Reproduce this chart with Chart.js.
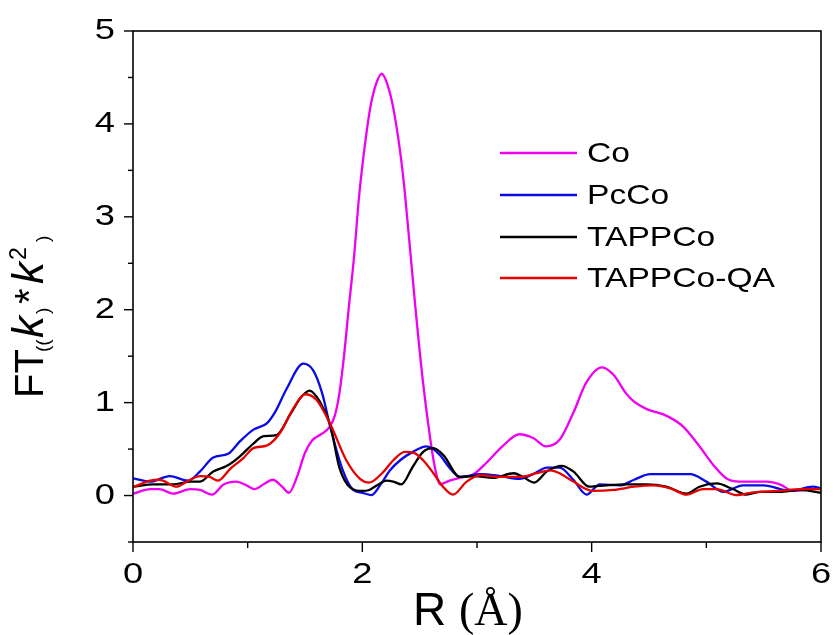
<!DOCTYPE html>
<html>
<head>
<meta charset="utf-8">
<script src="https://cdn.jsdelivr.net/npm/chart.js@4.4.0/dist/chart.umd.min.js"></script>
<style>
  html, body { margin: 0; padding: 0; background: #fff; }
  canvas { display: block; }
</style>
</head>
<body>
<canvas id="ftChart" width="835" height="635"></canvas>
<script>
// R (Å) / FT values
const coR = [0, 0.15, 0.23, 0.35, 0.5, 0.585, 0.69, 0.79, 0.9, 0.99, 1.06, 1.15, 1.22, 1.3, 1.36, 1.43, 1.5, 1.56, 1.64, 1.71, 1.76, 1.8, 1.84, 1.88, 1.93, 1.97, 2.02, 2.07, 2.12, 2.17, 2.22, 2.27, 2.33, 2.37, 2.42, 2.47, 2.53, 2.59, 2.63, 2.68, 2.74, 2.85, 2.97, 3.08, 3.23, 3.37, 3.49, 3.6, 3.72, 3.84, 3.95, 4.09, 4.19, 4.3, 4.37, 4.48, 4.65, 4.8, 4.94, 5.06, 5.18, 5.29, 5.53, 5.64, 5.76, 5.93, 6.0];
const coFT = [0.02, 0.07, 0.07, 0.02, 0.07, 0.06, 0.01, 0.12, 0.15, 0.11, 0.07, 0.13, 0.17, 0.095, 0.03, 0.2, 0.46, 0.59, 0.66, 0.73, 0.86, 1.1, 1.5, 2.0, 2.6, 3.2, 3.75, 4.18, 4.43, 4.54, 4.42, 4.17, 3.7, 3.27, 2.6, 1.93, 1.21, 0.63, 0.32, 0.12, 0.15, 0.19, 0.23, 0.35, 0.54, 0.66, 0.62, 0.53, 0.6, 0.89, 1.21, 1.38, 1.3, 1.1, 1.01, 0.93, 0.86, 0.74, 0.53, 0.33, 0.18, 0.15, 0.15, 0.12, 0.05, 0.07, 0.08];

const pccoR = [0, 0.15, 0.32, 0.48, 0.585, 0.7, 0.83, 0.93, 1.05, 1.17, 1.24, 1.34, 1.485, 1.57, 1.65, 1.72, 1.83, 1.92, 2.0, 2.08, 2.16, 2.24, 2.33, 2.44, 2.56, 2.62, 2.68, 2.76, 2.85, 3.03, 3.2, 3.37, 3.49, 3.61, 3.72, 3.84, 3.955, 4.07, 4.25, 4.37, 4.51, 4.86, 5.0, 5.15, 5.32, 5.5, 5.73, 5.93, 6.0];
const pccoFT = [0.185, 0.15, 0.21, 0.16, 0.26, 0.41, 0.45, 0.58, 0.71, 0.78, 0.9, 1.15, 1.42, 1.35, 1.1, 0.74, 0.27, 0.06, 0.03, 0.005, 0.12, 0.27, 0.38, 0.47, 0.53, 0.5, 0.43, 0.3, 0.2, 0.23, 0.21, 0.18, 0.23, 0.3, 0.3, 0.17, 0.01, 0.12, 0.11, 0.17, 0.23, 0.23, 0.15, 0.04, 0.11, 0.11, 0.05, 0.095, 0.08];

const tappR = [0, 0.18, 0.35, 0.5, 0.585, 0.7, 0.82, 0.93, 1.05, 1.14, 1.25, 1.37, 1.46, 1.54, 1.63, 1.72, 1.8, 1.9, 2.0, 2.06, 2.14, 2.21, 2.27, 2.34, 2.44, 2.53, 2.62, 2.71, 2.85, 2.97, 3.14, 3.32, 3.4, 3.5, 3.61, 3.74, 3.84, 3.98, 4.13, 4.3, 4.48, 4.65, 4.83, 4.94, 5.09, 5.23, 5.35, 5.47, 5.64, 5.82, 6.0];
const tappFT = [0.095, 0.12, 0.12, 0.15, 0.15, 0.26, 0.32, 0.42, 0.56, 0.64, 0.65, 0.87, 1.05, 1.13, 1.01, 0.76, 0.3, 0.08, 0.05, 0.06, 0.12, 0.16, 0.15, 0.12, 0.31, 0.47, 0.51, 0.43, 0.2, 0.21, 0.19, 0.24, 0.2, 0.14, 0.26, 0.32, 0.26, 0.095, 0.11, 0.12, 0.12, 0.095, 0.02, 0.095, 0.13, 0.07, 0.01, 0.04, 0.04, 0.06, 0.03];

const qaR = [0, 0.15, 0.23, 0.38, 0.47, 0.585, 0.67, 0.74, 0.85, 0.96, 1.05, 1.17, 1.28, 1.4, 1.5, 1.6, 1.72, 1.86, 1.98, 2.06, 2.18, 2.27, 2.37, 2.45, 2.53, 2.62, 2.7, 2.79, 2.91, 3.03, 3.2, 3.37, 3.52, 3.64, 3.72, 3.84, 4.01, 4.19, 4.37, 4.54, 4.68, 4.83, 4.97, 5.09, 5.26, 5.41, 5.64, 5.82, 6.0];
const qaFT = [0.09, 0.16, 0.17, 0.095, 0.15, 0.21, 0.2, 0.16, 0.29, 0.4, 0.51, 0.54, 0.67, 0.94, 1.09, 1.03, 0.77, 0.38, 0.18, 0.14, 0.25, 0.38, 0.47, 0.46, 0.38, 0.24, 0.1, 0.01, 0.15, 0.22, 0.2, 0.2, 0.24, 0.27, 0.24, 0.15, 0.05, 0.06, 0.095, 0.11, 0.08, 0.01, 0.07, 0.07, 0.005, 0.035, 0.05, 0.07, 0.07];

const seriesNames = ['Co', 'PcCo', 'TAPPCo', 'TAPPCo-QA'];
const seriesColors = ['#f000f0', '#0a0ae6', '#000000', '#e60000'];
const xTickValues = [0, 2, 4, 6];
const yTickValues = [0, 1, 2, 3, 4, 5];

function toPoints(xs, ys) {
    return xs.map((x, i) => ({ x: x, y: ys[i] }));
}

const allSeries = [
    toPoints(coR, coFT),
    toPoints(pccoR, pccoFT),
    toPoints(tappR, tappFT),
    toPoints(qaR, qaFT)
];

// Co underneath, TAPPCo-QA on top
const datasets = allSeries.map((pts, i) => ({
    label: seriesNames[i],
    data: pts,
    borderColor: seriesColors[i],
    backgroundColor: seriesColors[i],
    borderWidth: 2.3,
    pointRadius: 0,
    fill: false,
    cubicInterpolationMode: 'monotone',
    order: 4 - i
}));

function stretchedText(ctx, text, x, y, sx, align) {
    ctx.save();
    ctx.translate(x, y);
    ctx.scale(sx, 1);
    ctx.textAlign = align;
    ctx.fillText(text, 0, 0);
    ctx.restore();
}

const framePlugin = {
    id: 'framePlugin',
    afterDraw(chart) {
        const ctx = chart.ctx;
        const area = chart.chartArea;
        const xs = chart.scales.x;
        const ys = chart.scales.y;

        ctx.save();
        ctx.strokeStyle = '#000';
        ctx.fillStyle = '#000';
        ctx.lineWidth = 1.6;
        ctx.strokeRect(area.left, area.top, area.right - area.left, area.bottom - area.top);

        // x ticks: majors every 2, minors in between
        ctx.lineWidth = 1.4;
        for (let v = 0; v <= 6; v += 1) {
            const px = xs.getPixelForValue(v);
            const len = (v % 2 === 0) ? 10 : 6;
            ctx.beginPath();
            ctx.moveTo(px, area.bottom);
            ctx.lineTo(px, area.bottom + len);
            ctx.stroke();
        }
        // y ticks: majors every 1, minors every 0.5
        for (let v = -0.5; v <= 5.001; v += 0.5) {
            const py = ys.getPixelForValue(v);
            const len = (Math.abs(v - Math.round(v)) < 1e-6) ? 9 : 5;
            ctx.beginPath();
            ctx.moveTo(area.left, py);
            ctx.lineTo(area.left - len, py);
            ctx.stroke();
        }

        // tick labels
        ctx.font = '29px "Liberation Sans", Arial, sans-serif';
        ctx.textBaseline = 'middle';
        xTickValues.forEach(v => {
            stretchedText(ctx, String(v), xs.getPixelForValue(v), area.bottom + 33, 1.25, 'center');
        });
        yTickValues.forEach(v => {
            stretchedText(ctx, String(v), area.left - 18, ys.getPixelForValue(v), 1.25, 'right');
        });

        // x title: R (Å)
        ctx.textBaseline = 'alphabetic';
        ctx.textAlign = 'left';
        ctx.font = '46px "Liberation Sans", Arial, sans-serif';
        let tx = 413;
        ctx.fillText('R ', tx, 625);
        tx += ctx.measureText('R ').width;
        ctx.font = '46px "Liberation Serif", "Times New Roman", serif';
        ctx.fillText('(Å)', tx, 625);

        // y title: FT((k)*k2)
        ctx.save();
        ctx.translate(43, 398);
        ctx.rotate(-Math.PI / 2);
        const big = '40px "Liberation Sans", Arial, sans-serif';
        const bigIt = 'italic 44px "Liberation Sans", Arial, sans-serif';
        const small = '19px "Liberation Sans", Arial, sans-serif';
        const sup = '23px "Liberation Sans", Arial, sans-serif';
        const pieces = [
            ['FT', big, 0, 0],
            ['((', small, 46, 6],
            ['k', bigIt, 60, 0],
            [')', small, 84, 6],
            ['*', big, 94, 0],
            ['k', bigIt, 114, 0],
            ['2', sup, 138, -17],
            [')', small, 156, 6]
        ];
        pieces.forEach(p => {
            ctx.font = p[1];
            ctx.fillText(p[0], p[2], p[3]);
        });
        ctx.restore();

        // legend
        const legendY = [153, 195, 237, 278];
        ctx.font = '28px "Liberation Sans", Arial, sans-serif';
        ctx.textBaseline = 'middle';
        seriesNames.forEach((name, i) => {
            ctx.strokeStyle = seriesColors[i];
            ctx.lineWidth = 2.3;
            ctx.beginPath();
            ctx.moveTo(500, legendY[i]);
            ctx.lineTo(577, legendY[i]);
            ctx.stroke();
            ctx.fillStyle = '#000';
            stretchedText(ctx, name, 587, legendY[i] + 1, 1.2, 'left');
        });
        ctx.restore();
    }
};

const ctxFt = document.getElementById('ftChart').getContext('2d');
const ftChart = new Chart(ctxFt, {
    type: 'line',
    data: { datasets: datasets },
    options: {
        responsive: false,
        animation: false,
        devicePixelRatio: 1,
        layout: { padding: { top: 31, right: 14, left: 0, bottom: 0 } },
        plugins: {
            legend: { display: false },
            tooltip: { enabled: false }
        },
        scales: {
            x: {
                type: 'linear',
                min: 0,
                max: 6,
                ticks: { display: false },
                grid: { display: false },
                border: { display: false },
                afterFit: s => { s.height = 93; }
            },
            y: {
                min: -0.5,
                max: 5,
                ticks: { display: false },
                grid: { display: false },
                border: { display: false },
                afterFit: s => { s.width = 133; }
            }
        }
    },
    plugins: [framePlugin]
});
</script>
</body>
</html>
